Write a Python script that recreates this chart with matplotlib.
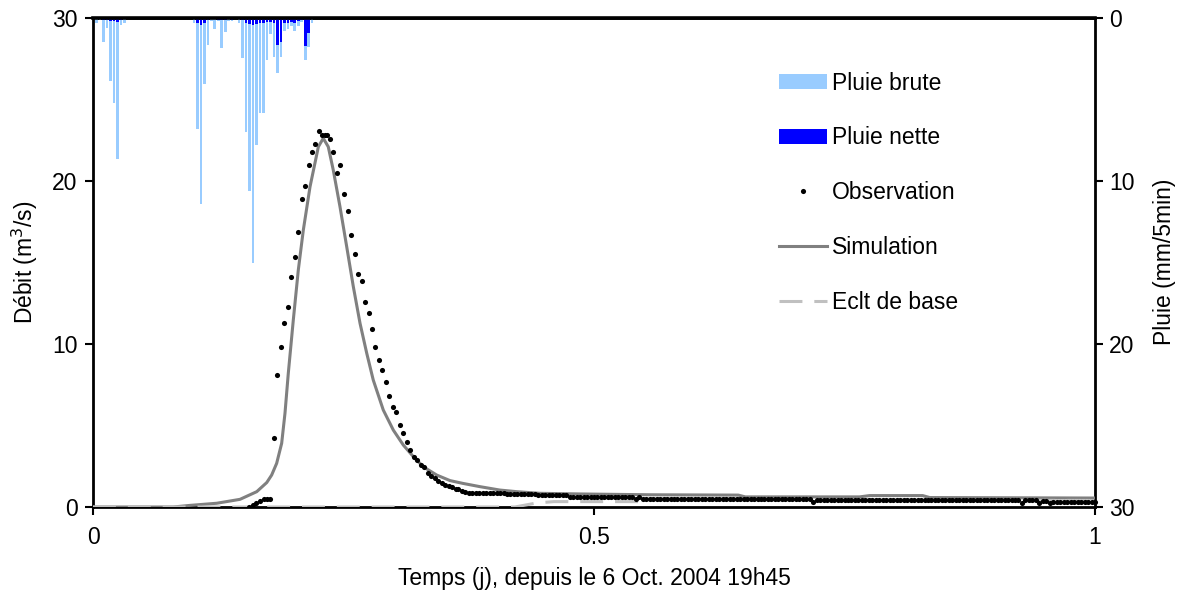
import matplotlib
matplotlib.use('Agg')
import matplotlib.pyplot as plt
from matplotlib.patches import Patch
from matplotlib.lines import Line2D

plt.rcParams['font.family'] = ['Liberation Sans', 'DejaVu Sans']

STEP = 1.0 / 288.0  # 5 minutes in days

# ---- rain (mm / 5 min), indexed by 5-min step ----
rain_idx = [1, 2, 3, 4, 5, 6, 7, 8, 9,
            29, 30, 31, 32, 33, 34, 35, 36, 37, 38, 39, 40,
            42, 43, 44, 45, 46, 47, 48, 49, 50, 51, 52, 53, 54, 55, 56, 57, 58, 59, 60, 61, 62, 63]
rain_brute = [0.3, 0.15, 1.45, 0.6, 3.85, 5.2, 8.65, 0.4, 0.3,
              0.3, 6.8, 11.4, 4.05, 1.65, 0.2, 0.65, 0.2, 1.82, 0.83, 0.2, 0.2,
              0.3, 2.45, 7.0, 10.6, 15.0, 7.8, 5.8, 5.8, 2.6, 1.0, 2.4, 3.4, 2.4, 0.8, 0.7, 0.47,
              0.8, 0.47, 0.27, 2.6, 1.8, 0.3]
net_idx = [3, 4, 5, 6, 7, 8,
           30, 31, 32, 33, 36, 37, 38, 40,
           43, 44, 45, 46, 47, 48, 49, 50, 51, 52, 53, 54, 55, 56, 57, 58, 59, 60, 61, 62]
rain_nette = [0.15, 0.15, 0.2, 0.2, 0.25, 0.15,
              0.3, 0.45, 0.3, 0.15, 0.1, 0.15, 0.15, 0.1,
              0.15, 0.3, 0.35, 0.45, 0.35, 0.3, 0.3, 0.25, 0.25, 0.3, 1.65, 1.5, 0.3, 0.3,
              0.25, 0.3, 0.2, 0.15, 1.7, 0.9]

# ---- observed discharge (m3/s) ----
obs_t = [0.156, 0.160, 0.163, 0.167, 0.171, 0.174, 0.177,
         0.181, 0.184, 0.188, 0.191, 0.195, 0.198, 0.202, 0.205, 0.209, 0.212,
         0.216, 0.219, 0.222, 0.226, 0.229, 0.232, 0.234, 0.237, 0.240, 0.244,
         0.247, 0.250, 0.254, 0.257, 0.261, 0.264, 0.268, 0.271, 0.275, 0.278,
         0.281, 0.285, 0.288, 0.292, 0.295, 0.299, 0.302, 0.306, 0.309, 0.313,
         0.316, 0.320, 0.323, 0.327, 0.330, 0.334, 0.337, 0.341, 0.344, 0.348,
         0.351, 0.355, 0.358, 0.362]
obs_q = [0.02, 0.10, 0.27, 0.39, 0.50, 0.50, 0.50,
         4.21, 8.10, 9.80, 11.31, 12.29, 14.09, 15.32, 16.89, 18.90, 19.69,
         20.98, 21.78, 22.27, 23.09, 22.80, 22.80, 22.80, 22.58, 21.78, 20.47,
         20.98, 19.18, 18.18, 16.69, 15.50, 14.29, 13.88, 12.60, 11.88, 10.90,
         9.80, 9.02, 8.40, 7.69, 6.79, 6.12, 5.81, 5.03, 4.52, 3.97,
         3.50, 3.09, 2.88, 2.58, 2.47, 2.07, 1.90, 1.76, 1.61, 1.49,
         1.35, 1.29, 1.21, 1.09]
obs_tail_start = 105  # first 5-min step of the recession tail
obs_tail_q = [
    1.12, 1.00, 0.92,
    0.88, 0.88, 0.88, 0.88, 0.88, 0.88, 0.88, 0.88, 0.88, 0.88, 0.88,
    0.80, 0.80, 0.80, 0.80, 0.80, 0.80, 0.80, 0.80, 0.80,
    0.72, 0.72, 0.72, 0.72, 0.72, 0.72, 0.72, 0.72, 0.72,
    0.63, 0.63, 0.63, 0.63, 0.63, 0.63, 0.63, 0.63, 0.63, 0.63,
    0.63, 0.63, 0.63, 0.63, 0.63, 0.63, 0.63, 0.63, 0.63,
    0.52, 0.63,
    0.50, 0.50, 0.50, 0.50, 0.50, 0.50, 0.50, 0.50, 0.50, 0.50,
    0.50, 0.50, 0.50, 0.50, 0.50, 0.50, 0.50, 0.50, 0.50, 0.50,
    0.50, 0.50, 0.50, 0.50, 0.50, 0.50, 0.50, 0.50, 0.50, 0.50,
    0.50, 0.50, 0.50, 0.50, 0.50, 0.50, 0.50, 0.50, 0.50, 0.50,
    0.50, 0.50, 0.50, 0.50, 0.50, 0.50, 0.50, 0.50, 0.50,
    0.33,
    0.43, 0.43, 0.43, 0.43, 0.43, 0.43, 0.43, 0.43, 0.43, 0.43,
    0.43, 0.43, 0.43, 0.43, 0.43, 0.43, 0.43, 0.43, 0.43, 0.43,
    0.43, 0.43, 0.43, 0.43, 0.43, 0.43, 0.43, 0.43, 0.43, 0.43,
    0.43, 0.43, 0.43, 0.43, 0.43, 0.43, 0.43, 0.43, 0.43, 0.43,
    0.43, 0.43, 0.43, 0.43, 0.43, 0.43, 0.43, 0.43, 0.43, 0.43,
    0.43, 0.43, 0.43, 0.43, 0.43, 0.43, 0.43, 0.43, 0.43,
    0.25, 0.40, 0.40, 0.40, 0.40, 0.25, 0.38, 0.38, 0.25,
    0.33, 0.33, 0.33, 0.33, 0.33, 0.33, 0.33, 0.33, 0.33, 0.33, 0.33, 0.33, 0.33]

# ---- simulated discharge ----
sim_t = [0.0, 0.08, 0.097, 0.1235, 0.1467, 0.1634, 0.1734, 0.1783, 0.1833, 0.1883,
         0.1916, 0.1949, 0.1999, 0.2049, 0.2099, 0.2166, 0.2249, 0.2298, 0.2348,
         0.2398, 0.2465, 0.2532, 0.2598, 0.2665, 0.2732, 0.2797, 0.2897, 0.2997,
         0.3097, 0.3197, 0.3296, 0.343, 0.3563, 0.369, 0.386, 0.406, 0.423, 0.446,
         0.486, 0.556, 0.644, 0.651, 0.765, 0.775, 0.828, 0.835, 1.0]
sim_q = [0.0, 0.0, 0.1, 0.23, 0.47, 0.94, 1.5, 1.96, 2.68, 3.91,
         5.75, 8.2, 11.47, 14.54, 16.99, 19.65, 22.1, 22.62, 22.1,
         20.67, 18.42, 15.97, 13.52, 11.27, 9.43, 7.79, 5.95, 4.72,
         3.80, 3.09, 2.47, 1.96, 1.62, 1.45, 1.25, 1.04, 0.94, 0.84,
         0.80, 0.75, 0.73, 0.62, 0.62, 0.70, 0.70, 0.58, 0.55]

# ---- base flow ----
base_t = [0.0, 0.421, 0.443, 0.46, 0.548, 0.552, 0.72, 0.725, 1.0]
base_q = [0.0, 0.0, 0.25, 0.33, 0.33, 0.49, 0.49, 0.43, 0.40]

xticks = [0, 0.5, 1]
xticklabels = ['0', '0.5', '1']
qticks = [0, 10, 20, 30]
pticks = [0, 10, 20, 30]

FS = 16.5
MS = 3.7
W, H = 1184, 597
fig = plt.figure(figsize=(W / 100, H / 100), dpi=100)
ax = fig.add_axes([93 / W, 1 - 507 / H, (1095 - 93) / W, (507 - 18) / H])
ax2 = ax.twinx()

# discharge series
ax.plot(sim_t, sim_q, color='#808080', lw=2.2, zorder=3, solid_capstyle='butt')
ax.plot(base_t, base_q, color='#C0C0C0', lw=2.2, dashes=(7.5, 3.9), zorder=4)
ax.plot(obs_t, obs_q, ls='none', marker='o', ms=MS, mew=0, color='black', zorder=5)
tail_t = [(obs_tail_start + k) * STEP for k in range(len(obs_tail_q))]
ax.plot(tail_t, obs_tail_q, ls='none', marker='o', ms=MS, mew=0, color='black', zorder=5,
        clip_on=False)

ax.set_xlim(0, 1)
ax.set_ylim(0, 30)
ax.set_xticks(xticks)
ax.set_xticklabels(xticklabels)
ax.set_yticks(qticks)

# rain bars
ax2.bar([i * STEP for i in rain_idx], rain_brute, width=0.75 * STEP, color='#99CCFF', zorder=1)
ax2.bar([i * STEP for i in net_idx], rain_nette, width=0.75 * STEP, color='#0000FF', zorder=1.5)
ax2.set_ylim(30, 0)
ax2.set_yticks(pticks)

for a in (ax, ax2):
    a.tick_params(direction='out', length=6, width=1.5, labelsize=FS, colors='black')
ax.tick_params(axis='x', pad=8)
ax.tick_params(axis='y', pad=5)
ax2.tick_params(axis='y', pad=4)

for s in ax.spines.values():
    s.set_linewidth(2)
    s.set_color('black')
for name, s in ax2.spines.items():
    if name == 'top':
        s.set_linewidth(2.6)
        s.set_color('black')
    else:
        s.set_visible(False)

fig.text(594 / W, 1 - 578 / H, 'Temps (j), depuis le 6 Oct. 2004 19h45', ha='center', va='center',
         fontsize=FS)
fig.text(25 / W, 1 - 262 / H, 'Débit (m$^3$/s)', ha='center', va='center', rotation=90,
         fontsize=FS)
fig.text(1165 / W, 1 - 262 / H, 'Pluie (mm/5min)', ha='center', va='center', rotation=90,
         fontsize=FS)

handles = [Patch(facecolor='#99CCFF', edgecolor='none'),
           Patch(facecolor='#0000FF', edgecolor='none'),
           Line2D([], [], ls='none', marker='o', ms=MS, mew=0, color='black'),
           Line2D([], [], color='#808080', lw=2.2),
           Line2D([], [], color='#C0C0C0', lw=2.2, dashes=(7.5, 3.9))]
labels = ['Pluie brute', 'Pluie nette', 'Observation', 'Simulation', 'Eclt de base']
ax2.legend(handles, labels, loc='upper left', bbox_to_anchor=(779 / W, 1 - 71.5 / H),
           bbox_transform=fig.transFigure, frameon=False, fontsize=FS, borderpad=0,
           borderaxespad=0, handlelength=2.1, handletextpad=0.22, labelspacing=1.39,
           handleheight=0.62)

fig.savefig('out.png', dpi=100)
